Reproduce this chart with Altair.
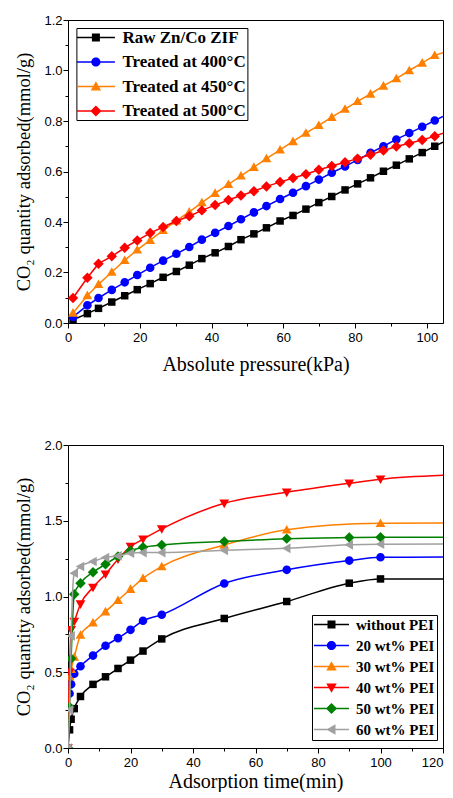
import altair as alt
import pandas as pd

# ---------------- Panel 1: CO2 adsorption vs pressure ----------------
pressure = [1.4, 5.4, 8.5, 12.2, 15.8, 19.3, 22.9, 26.5, 30.2, 33.8, 37.3, 41.0, 44.7, 48.2,
            51.8, 55.3, 59.1, 62.7, 66.3, 69.9, 73.5, 77.2, 80.7, 84.3, 87.9, 91.5, 95.1, 98.7, 102.2]
raw_zif = [0.013, 0.037, 0.058, 0.083, 0.108, 0.132, 0.156, 0.181, 0.204, 0.229, 0.255, 0.278, 0.303, 0.330,
           0.353, 0.377, 0.404, 0.426, 0.451, 0.477, 0.501, 0.527, 0.551, 0.575, 0.601, 0.625, 0.650, 0.675, 0.700]
treated_400 = [0.024, 0.070, 0.099, 0.131, 0.161, 0.190, 0.219, 0.247, 0.274, 0.301, 0.330, 0.357, 0.384, 0.411,
               0.438, 0.463, 0.491, 0.516, 0.542, 0.568, 0.595, 0.620, 0.646, 0.674, 0.700, 0.727, 0.752, 0.777, 0.802]
treated_450 = [0.040, 0.109, 0.153, 0.202, 0.248, 0.290, 0.328, 0.367, 0.405, 0.440, 0.477, 0.514, 0.549, 0.583,
               0.617, 0.651, 0.686, 0.719, 0.752, 0.783, 0.815, 0.847, 0.878, 0.907, 0.939, 0.968, 1.000, 1.030, 1.060]
treated_500 = [0.099, 0.179, 0.235, 0.264, 0.298, 0.327, 0.356, 0.380, 0.404, 0.423, 0.446, 0.467, 0.487, 0.505,
               0.522, 0.541, 0.558, 0.574, 0.589, 0.607, 0.622, 0.637, 0.651, 0.666, 0.683, 0.699, 0.712, 0.725, 0.740]
top_edge_x = 104.5
top_edge_y = [0.716, 0.818, 1.070, 0.752]
top_names = ["Raw Zn/Co ZIF", "Treated at 400°C", "Treated at 450°C", "Treated at 500°C"]
top_colors = ["#000000", "#0000FF", "#FF8000", "#FF0000"]

# ---------------- Panel 2: CO2 adsorption vs time ----------------
time_main = [0, 0.5, 1, 2, 4, 8, 12, 16, 20, 24, 30, 50, 70, 90, 100]
time_30 = [0, 0.5, 1, 2, 4, 8, 12, 16, 20, 24, 30, 50, 70, 100]
pei_0 = [0, 0.12, 0.19, 0.26, 0.34, 0.42, 0.47, 0.525, 0.58, 0.64, 0.72, 0.855, 0.967, 1.088, 1.116]
pei_20 = [0, 0.36, 0.42, 0.49, 0.54, 0.61, 0.675, 0.725, 0.78, 0.84, 0.88, 1.086, 1.176, 1.237, 1.259]
pei_30 = [0, 0.47, 0.52, 0.60, 0.745, 0.826, 0.90, 0.975, 1.048, 1.12, 1.198, 1.34, 1.44, 1.483]
pei_40 = [0, 0.50, 0.78, 0.835, 0.95, 1.06, 1.147, 1.246, 1.33, 1.378, 1.446, 1.615, 1.688, 1.747, 1.774]
pei_50 = [0, 0.27, 0.59, 1.015, 1.088, 1.16, 1.213, 1.264, 1.303, 1.325, 1.34, 1.363, 1.382, 1.389, 1.391]
pei_60 = [0, 0.25, 0.74, 1.154, 1.198, 1.231, 1.257, 1.268, 1.286, 1.29, 1.29, 1.305, 1.318, 1.341, 1.345]
bot_edge_x = 120
bot_edge_y = [1.116, 1.260, 1.485, 1.800, 1.391, 1.347]
bot_names = ["without PEI", "20 wt% PEI", "30 wt% PEI", "40 wt% PEI", "50 wt% PEI", "60 wt% PEI"]
bot_colors = ["#000000", "#0000FF", "#FF8000", "#FF0000", "#008000", "#A0A0A0"]

# marker outlines (unit square -1..1)
SQUARE = "M-1,-1H1V1H-1Z"
CIRCLE = "M-1.15,0A1.15,1.15,0,1,1,1.15,0A1.15,1.15,0,1,1,-1.15,0Z"
TRI_UP = "M0,-1.3L1.3,1L-1.3,1Z"
DIAMOND = "M0,-1.4L1.4,0L0,1.4L-1.4,0Z"
TRI_DOWN = "M0,1.3L-1.3,-1L1.3,-1Z"
TRI_LEFT = "M-1.3,0L1,-1.3L1,1.3Z"


def line_path(half):
    return f"M{-half},-0.2H{half}V0.2H{-half}Z "


top_markers = [SQUARE, CIRCLE, TRI_UP, DIAMOND]
bot_markers = [SQUARE, CIRCLE, TRI_UP, TRI_DOWN, DIAMOND, TRI_LEFT]

AXIS_COMMON = dict(labelFont="Liberation Sans", labelFontSize=13, labelColor="#000000",
                   titleFont="Liberation Serif", titleFontWeight="normal",
                   titleColor="#000000", domainColor="#000000", tickColor="#000000",
                   domainWidth=1, tickWidth=1, grid=False, labelOverlap=False, labelFlush=False)


def frame(xs_list, ys_list, names, edge_x, edge_y):
    out = []
    for xs, ys, n, ey in zip(xs_list, ys_list, names, edge_y):
        d = pd.DataFrame({"x": list(xs) + [edge_x], "y": list(ys) + [ey]})
        d["series"] = n
        d["marker"] = [True] * len(xs) + [False]
        out.append(d)
    return out


def panel(dfs, names, colors, markers, xdom, xvals, xtest, xtitle, ydom, yvals, ytest, ytitle,
          interp, legend_half, legend_props, x_title_pad, x_last):
    xenc = alt.X("x:Q", scale=alt.Scale(domain=xdom, nice=False, zero=False),
                 axis=alt.Axis(values=xvals, title=xtitle, titlePadding=x_title_pad, labelPadding=3,
                               titleFontSize=20,
                               labelAlign={"condition": {"test": f"datum.value == {x_last}", "value": "right"},
                                           "value": "center"},
                               labelExpr=f"({xtest}) ? format(datum.value, 'd') : ''",
                               tickSize={"condition": {"test": xtest, "value": 5}, "value": 3},
                               **AXIS_COMMON))
    yenc = alt.Y("y:Q", scale=alt.Scale(domain=ydom, nice=False, zero=False),
                 axis=alt.Axis(values=yvals, title=ytitle, titlePadding=10, labelPadding=1,
                               titleFontSize=18.5,
                               labelExpr=f"({ytest}) ? format(datum.value, '.1f') : ''",
                               tickSize={"condition": {"test": ytest, "value": 5}, "value": 3},
                               **AXIS_COMMON))
    layers = []
    for d, c, m in zip(dfs, colors, markers):
        base = alt.Chart(d)
        layers.append(base.mark_line(color=c, strokeWidth=1.5, interpolate=interp, clip=True)
                      .encode(x=xenc, y=yenc))
        layers.append(base.transform_filter(alt.datum.marker)
                      .mark_point(shape=m, filled=True, size=56, color=c, opacity=1, clip=True)
                      .encode(x=xenc, y=yenc))
    legend_paths = [line_path(legend_half) + m for m in markers]
    leg = alt.Legend(title=None, orient="none", direction="vertical", strokeColor="#000000",
                     fillColor="#FFFFFF", labelFont="Liberation Serif", labelFontWeight="bold",
                     labelColor="#000000", labelLimit=400, symbolSize=64, symbolStrokeWidth=0,
                     symbolOpacity=1, **legend_props)
    all_df = pd.concat(dfs)
    legend_layer = (alt.Chart(all_df).transform_filter("false")
                    .mark_point(filled=True, size=64, opacity=1)
                    .encode(color=alt.Color("series:N", scale=alt.Scale(domain=names, range=colors), legend=leg),
                            shape=alt.Shape("series:N", scale=alt.Scale(domain=names, range=legend_paths), legend=leg)))
    layers.append(legend_layer)
    return alt.layer(*layers).properties(width=375, height=303)


top_dfs = frame([pressure] * 4, [raw_zif, treated_400, treated_450, treated_500], top_names, top_edge_x, top_edge_y)
bot_dfs = frame([time_main, time_main, time_30, time_main, time_main, time_main],
                [pei_0, pei_20, pei_30, pei_40, pei_50, pei_60], bot_names, bot_edge_x, bot_edge_y)

top = panel(top_dfs, top_names, top_colors, top_markers,
            [0, 104.5], list(range(0, 101, 10)), "datum.value % 20 == 0", "Absolute pressure(kPa)",
            [0, 1.2], [round(i * 0.1, 1) for i in range(13)], "round(datum.value * 10) % 2 == 0",
            "CO₂ quantity adsorbed(mmol/g)", "linear", 4.75,
            dict(legendX=8.4, legendY=8, padding=1, rowPadding=6.5, symbolOffset=10, labelOffset=18,
                 labelFontSize=17), 10, 999)

bottom = panel(bot_dfs, bot_names, bot_colors, bot_markers,
               [0, 120], list(range(0, 121, 10)), "datum.value % 20 == 0", "Adsorption time(min)",
               [0, 2.0], [i * 0.25 for i in range(9)], "round(datum.value * 4) % 2 == 0",
               "CO₂ quantity adsorbed(mmol/g)", "monotone", 4.375,
               dict(legendX=244, legendY=170, padding=2, rowPadding=5, symbolOffset=10, labelOffset=17,
                    labelFontSize=15), 2, 120)

chart = (alt.vconcat(top, bottom, spacing=63)
         .resolve_scale(color="independent", shape="independent")
         .resolve_legend(color="independent", shape="independent")
         .properties(padding={"left": 6, "top": 5, "right": 0, "bottom": 0})
         .configure_view(stroke="#000000", strokeWidth=1))

chart.save("out.html", embed_options={"renderer": "svg", "actions": False})
